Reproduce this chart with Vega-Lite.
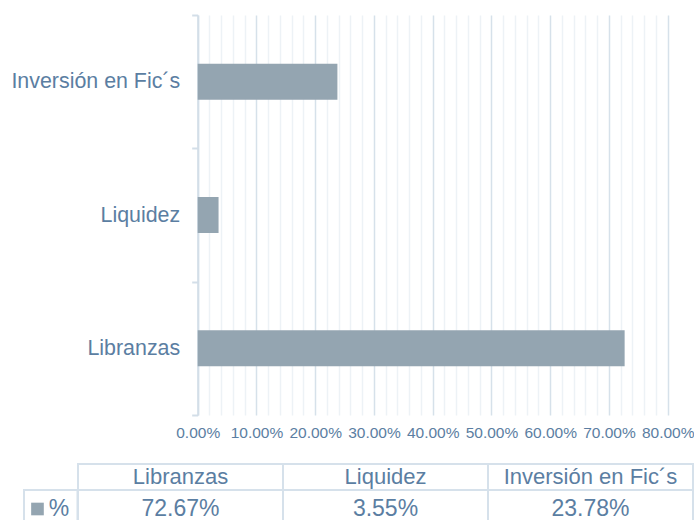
{
  "$schema": "https://vega.github.io/schema/vega-lite/v6.json",
  "padding": {"left": 10, "top": 4, "right": 0, "bottom": 0},
  "background": "white",
  "config": {"view": {"stroke": null}, "font": "Liberation Sans"},
  "datasets": {
    "d": [
      {"cat": "Inversión en Fic´s", "value": 0.2378},
      {"cat": "Liquidez", "value": 0.0355},
      {"cat": "Libranzas", "value": 0.7267}
    ],
    "leg": [{"series": "%"}]
  },
  "bounds": "flush",
  "spacing": 49,
  "vconcat": [
    {
      "width": 644,
      "height": 400,
      "data": {"name": "d"},
      "mark": {"type": "bar", "color": "#94a5b1", "size": 36},
      "encoding": {
        "y": {
          "field": "cat", "type": "nominal",
          "sort": ["Inversión en Fic´s", "Liquidez", "Libranzas"],
          "scale": {"paddingInner": 0, "paddingOuter": 0},
          "axis": {
            "title": null, "offset": -173.7, "tickBand": "extent", "tickSize": 6, "tickWidth": 2,
            "tickColor": "#d3dee8", "domainColor": "#d3dee8", "domainWidth": 2,
            "labelFontSize": 21.4, "labelColor": "#5b7ea2", "labelPadding": 12, "grid": false
          }
        },
        "x": {
          "field": "value", "type": "quantitative",
          "scale": {"domain": [0, 0.8], "range": [173.7, 643.7], "nice": false},
          "axis": {
            "title": null, "tickCount": 40, "format": ".2%",
            "labelExpr": "round(datum.value*100) % 10 === 0 ? datum.label : ''",
            "labelOverlap": false, "labelFlush": false, "domain": false, "ticks": false,
            "grid": true, "gridWidth": 1.5,
            "gridColor": {"condition": {"test": "round(datum.value*100) % 10 === 0", "value": "#d6e1ea"}, "value": "#edf2f6"},
            "labelFontSize": 15.5, "labelColor": "#5b7ea2", "labelPadding": 10
          }
        }
      }
    },
    {
      "bounds": "flush",
      "spacing": 0,
      "hconcat": [
        {
          "width": 53.5,
          "height": 52,
          "data": {"name": "leg"},
          "layer": [
            {
              "mark": {"type": "rect", "fill": "white", "stroke": "#d6e1eb", "strokeWidth": 2, "height": 38, "yOffset": 6},
              "encoding": {
                "y": {"datum": "v", "type": "nominal", "scale": {"domain": ["h", "v"], "paddingInner": 0, "paddingOuter": 0}, "axis": null}
              }
            },
            {
              "mark": {"type": "point", "shape": "square", "filled": true, "color": "#94a5b1", "size": 160, "opacity": 1, "yOffset": 6},
              "encoding": {
                "y": {"datum": "v", "type": "nominal"},
                "x": {"datum": "sw", "type": "nominal", "scale": {"domain": ["sw", "pct"], "type": "band", "paddingInner": 0, "paddingOuter": 0.244, "align": 0.26}, "axis": null}
              }
            },
            {
              "mark": {"type": "text", "fontSize": 23, "color": "#5b7ea2", "yOffset": 6},
              "encoding": {
                "y": {"datum": "v", "type": "nominal"},
                "x": {"datum": "pct", "type": "nominal"},
                "text": {"field": "series"}
              }
            }
          ]
        },
        {
          "width": 615,
          "height": 52,
          "data": {"name": "d"},
          "encoding": {
            "x": {
              "field": "cat", "type": "nominal",
              "sort": ["Libranzas", "Liquidez", "Inversión en Fic´s"],
              "scale": {"paddingInner": 0, "paddingOuter": 0},
              "axis": null
            }
          },
          "layer": [
            {
              "mark": {"type": "rect", "fill": "white", "stroke": "#d6e1eb", "strokeWidth": 2},
              "encoding": {
                "y": {"datum": "h", "type": "nominal", "scale": {"domain": ["h", "v"], "paddingInner": 0, "paddingOuter": 0}, "axis": null}
              }
            },
            {
              "mark": {"type": "rect", "fill": "white", "stroke": "#d6e1eb", "strokeWidth": 2, "height": 38, "yOffset": 6},
              "encoding": {"y": {"datum": "v", "type": "nominal"}}
            },
            {
              "mark": {"type": "text", "fontSize": 22, "color": "#5b7ea2"},
              "encoding": {"y": {"datum": "h", "type": "nominal"}, "text": {"field": "cat"}}
            },
            {
              "mark": {"type": "text", "fontSize": 23, "color": "#5b7ea2", "yOffset": 6},
              "encoding": {"y": {"datum": "v", "type": "nominal"}, "text": {"field": "value", "format": ".2%"}}
            }
          ]
        }
      ]
    }
  ]
}
